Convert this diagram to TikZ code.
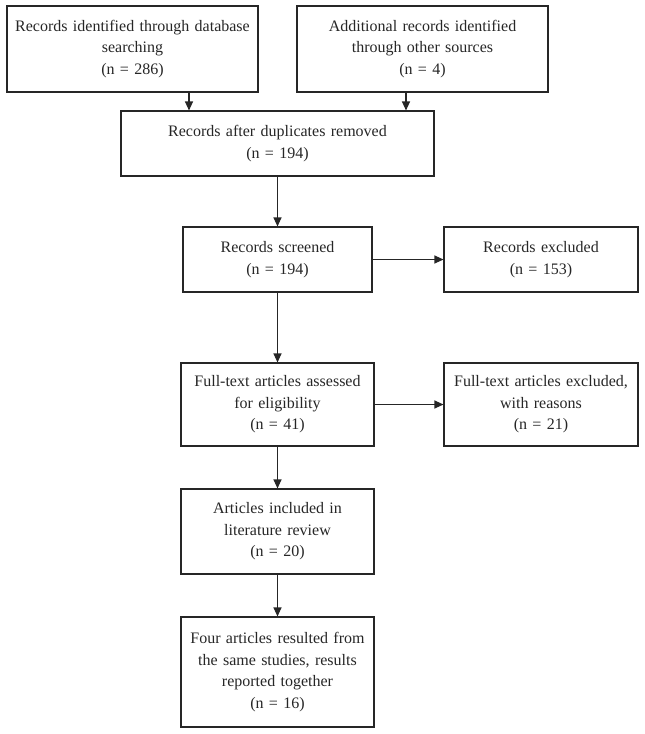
\documentclass[tikz,border=0pt]{standalone}
\usepackage{fontspec}
\setmainfont{Liberation Serif}
\usepackage{tikz}
\usetikzlibrary{arrows.meta,positioning,calc}
\tikzset{
    line color/.style={black!85},
    box/.style={draw,line color,line width=1.1pt,rectangle,align=center,inner sep=0pt,
        font=\fontsize{16}{21.5}\selectfont},
    arr/.style={->,>={Triangle[length=9pt,width=8pt]},line color,line width=1.1pt},
}

\begin{document}
\begin{tikzpicture}[x=1pt,y=-1pt]
    \useasboundingbox (0,0) rectangle (645,734);
    % identification
    \node[box,minimum width=251pt,minimum height=86pt,text width=247pt] (ident) at (132.5,49)
        {Records identified through database\\searching\\(n = 286)};
    \node[box,minimum width=251pt,minimum height=86pt,text width=247pt] (other) at (422.5,49)
        {Additional records identified\\through other sources\\(n = 4)};
    \node[box,minimum width=313pt,minimum height=65pt,text width=305pt] (dupl) at (277.5,143.5)
        {Records after duplicates removed\\(n = 194)};
    % screening
    \node[box,minimum width=189pt,minimum height=65pt,text width=185pt] (screen) at (277.5,259.5)
        {Records screened\\(n = 194)};
    \node[box,minimum width=194pt,minimum height=65pt,text width=190pt] (excl) at (541,259.5)
        {Records excluded\\(n = 153)};
    % eligibility
    \node[box,minimum width=193pt,minimum height=83pt,text width=190pt] (full) at (277.5,404.5)
        {Full-text articles assessed\\for eligibility\\(n = 41)};
    \node[box,minimum width=194pt,minimum height=83pt,text width=190pt] (fullexcl) at (541,404.5)
        {Full-text articles excluded,\\with reasons\\(n = 21)};
    % included
    \node[box,minimum width=193pt,minimum height=85pt,text width=190pt] (incl) at (277.5,531.5)
        {Articles included in\\literature review\\(n = 20)};
    \node[box,minimum width=193pt,minimum height=110pt,text width=190pt] (four) at (277.5,672)
        {Four articles resulted from\\the same studies, results\\reported together\\(n = 16)};

    \coordinate (left tap) at (189,0);
    \coordinate (right tap) at (406,0);
    \draw[arr] (ident.south -| left tap) -- (dupl.north -| left tap);
    \draw[arr] (other.south -| right tap) -- (dupl.north -| right tap);
    \draw[arr] (dupl) -- (screen);
    \draw[arr] (screen) -- (excl);
    \draw[arr] (screen) -- (full);
    \draw[arr] (full) -- (fullexcl);
    \draw[arr] (full) -- (incl);
    \draw[arr] (incl) -- (four);
\end{tikzpicture}
\end{document}
